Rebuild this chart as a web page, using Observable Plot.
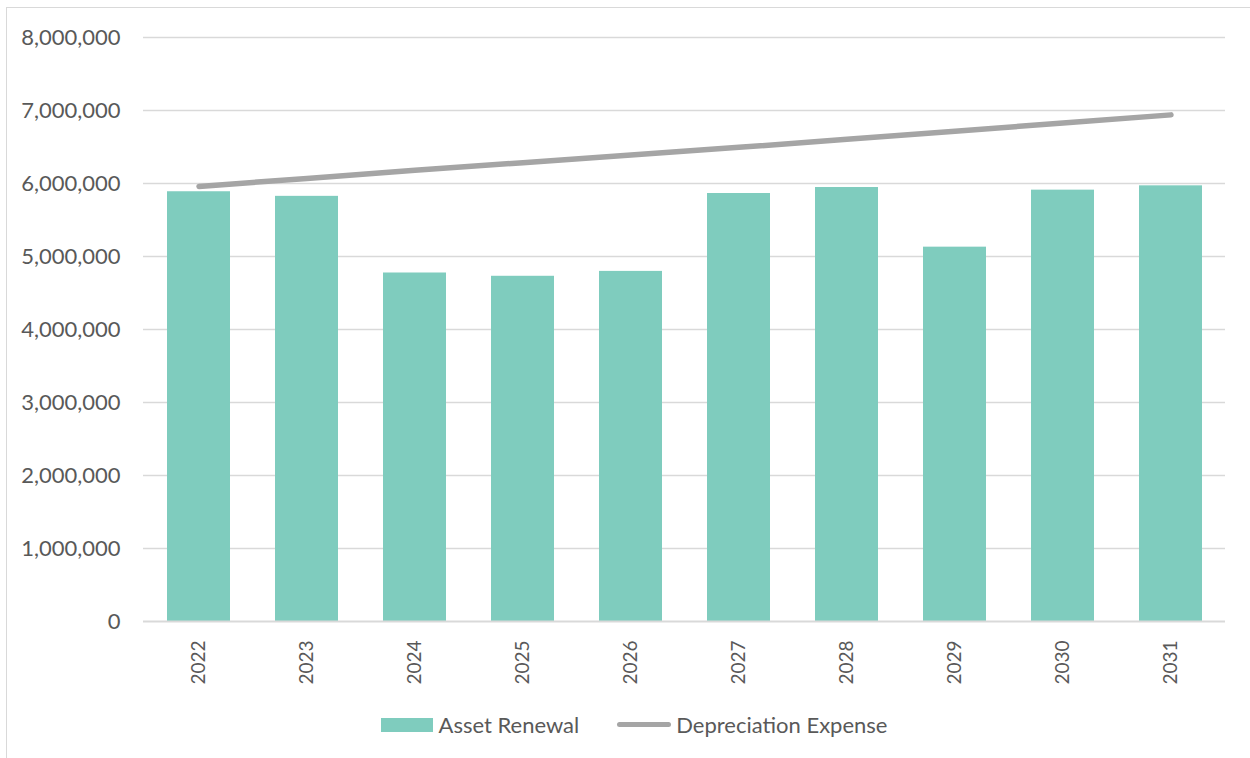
<!DOCTYPE html>
<html>
<head>
<meta charset="utf-8">
<script src="https://cdn.jsdelivr.net/npm/d3@7"></script>
<script src="https://cdn.jsdelivr.net/npm/@observablehq/plot@0.6"></script>
<style>
  html, body { margin: 0; padding: 0; background: #fff; }
  #wrap { position: relative; width: 1250px; height: 758px; overflow: hidden; font-family: Lato, "Open Sans", sans-serif; color: #595959; }
  #frame { position: absolute; left: 6px; top: 7px; right: -2px; bottom: -2px; border-top: 1.5px solid #d9d9d9; border-left: 1.5px solid #d9d9d9; pointer-events: none; }
  #chart { position: absolute; left: 0; top: 0; }
  #legend { position: absolute; left: 0; top: 711px; width: 1250px; padding-left: 18px; box-sizing: border-box; display: flex; justify-content: center; align-items: center; font-size: 22px; }
  .item { display: flex; align-items: center; }
  .sw-bar { width: 52px; height: 14px; background: #7fccbe; margin-right: 6px; }
  .sw-line { width: 54px; height: 5.5px; border-radius: 3px; background: #a5a5a5; margin-right: 5px; }
</style>
</head>
<body>
<div id="wrap">
  <div id="chart"></div>
  <div id="frame"></div>
  <div id="legend">
    <div class="item"><div class="sw-bar"></div><span>Asset Renewal</span></div>
    <div class="item" style="margin-left:38px"><div class="sw-line"></div><span>Depreciation Expense</span></div>
  </div>
</div>
<script>
const years = ["2022", "2023", "2024", "2025", "2026", "2027", "2028", "2029", "2030", "2031"];
const assetRenewal = [5887000, 5824000, 4774000, 4729000, 4796000, 5863000, 5945000, 5128000, 5909000, 5968000];
const depreciationExpense = [5960000, 6070000, 6180000, 6285000, 6390000, 6495000, 6605000, 6715000, 6830000, 6940000];
const yTicks = [0, 1000000, 2000000, 3000000, 4000000, 5000000, 6000000, 7000000, 8000000];

const data = years.map((year, i) => ({ year, renewal: assetRenewal[i], depreciation: depreciationExpense[i] }));

const chart = Plot.plot({
  width: 1250,
  height: 700,
  marginTop: 37,
  marginBottom: 79,
  marginLeft: 143,
  marginRight: 25,
  style: { fontFamily: "Lato, 'Open Sans', sans-serif", fontSize: "21px", color: "#595959", background: "transparent" },
  x: { domain: years, paddingInner: 0.42, paddingOuter: 0.21, label: null },
  y: { domain: [0, 8000000], label: null },
  marks: [
    Plot.gridY(yTicks.filter(d => d > 0), { stroke: "#d9d9d9", strokeOpacity: 1, strokeWidth: 1.5 }),
    Plot.barY(data, { x: "year", y: "renewal", fill: "#7fccbe" }),
    Plot.ruleY([0], { stroke: "#d9d9d9", strokeWidth: 2 }),
    Plot.line(data, { x: "year", y: "depreciation", stroke: "#a5a5a5", strokeWidth: 5.5, strokeLinecap: "round" }),
    Plot.axisY(yTicks, { tickSize: 0, tickPadding: 23, tickFormat: d3.format(","), fontSize: 22, label: null }),
    Plot.axisX({ tickSize: 0, tickPadding: 19, tickRotate: -90, fontSize: 19, label: null })
  ]
});
document.getElementById("chart").appendChild(chart);
</script>
</body>
</html>
